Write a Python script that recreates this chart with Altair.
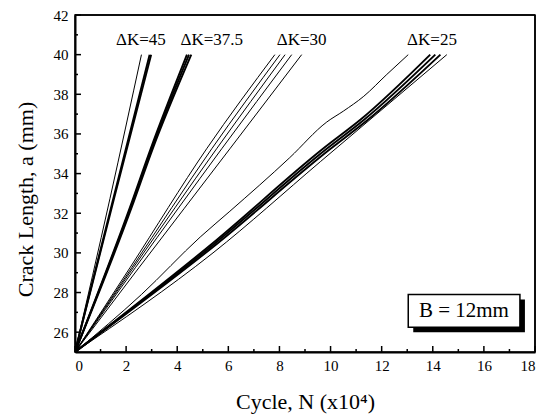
import altair as alt
import pandas as pd

# Crack length a (mm) against number of cycles N (x10^4), constant-ΔK tests, B = 12 mm

# ΔK = 45
N_45_a = [0, 1.37, 2.60]
A_45_a = [25, 32.75, 40]
N_45_b = [0, 1.50, 2.92]
A_45_b = [25, 32.75, 40]
N_45_c = [0, 1.53, 2.98]
A_45_c = [25, 32.75, 40]

# ΔK = 37.5
N_375_a = [0, 2.15, 2.96, 4.38]
A_375_a = [25, 32.3, 35.25, 40]
N_375_b = [0, 2.18, 3.00, 4.46]
A_375_b = [25, 32.3, 35.25, 40]
N_375_c = [0, 2.22, 3.04, 4.55]
A_375_c = [25, 32.3, 35.25, 40]

# ΔK = 30
N_30_a = [0, 2.15, 5.15, 7.82]
A_30_a = [25, 29.25, 35.25, 40]
N_30_b = [0, 2.22, 5.35, 8.02]
A_30_b = [25, 29.25, 35.25, 40]
N_30_c = [0, 2.28, 5.54, 8.22]
A_30_c = [25, 29.25, 35.25, 40]
N_30_d = [0, 2.36, 5.74, 8.48]
A_30_d = [25, 29.25, 35.25, 40]
N_30_e = [0, 2.50, 6.06, 8.87]
A_30_e = [25, 29.25, 35.25, 40]

# ΔK = 25
N_25_a = [0, 2.6, 4.9, 6.06, 8.4, 9.85, 10.5, 11.3, 12.2, 13.04]
A_25_a = [25, 27.9, 30.8, 32.1, 34.8, 36.6, 37.15, 37.9, 39.0, 40]
N_25_b = [0, 5.35, 9.75, 11.2, 13.90]
A_25_b = [25, 30.45, 35.3, 36.75, 40]
N_25_c = [0, 5.40, 9.85, 11.3, 14.10]
A_25_c = [25, 30.4, 35.25, 36.7, 40]
N_25_d = [0, 5.45, 9.95, 11.4, 14.30]
A_25_d = [25, 30.35, 35.2, 36.65, 40]
N_25_e = [0, 5.40, 9.60, 14.55]
A_25_e = [25, 30.0, 34.6, 40]

runs = {
    "45a": (N_45_a, A_45_a), "45b": (N_45_b, A_45_b), "45c": (N_45_c, A_45_c),
    "37.5a": (N_375_a, A_375_a), "37.5b": (N_375_b, A_375_b), "37.5c": (N_375_c, A_375_c),
    "30a": (N_30_a, A_30_a), "30b": (N_30_b, A_30_b), "30c": (N_30_c, A_30_c),
    "30d": (N_30_d, A_30_d), "30e": (N_30_e, A_30_e),
    "25a": (N_25_a, A_25_a), "25b": (N_25_b, A_25_b), "25c": (N_25_c, A_25_c),
    "25d": (N_25_d, A_25_d), "25e": (N_25_e, A_25_e),
}
thick_runs = {"45b", "45c", "37.5a", "37.5b", "37.5c", "25b", "25c", "25d"}

label_text = ["ΔK=45", "ΔK=37.5", "ΔK=30", "ΔK=25"]
label_N = [2.58, 5.35, 8.87, 13.97]
label_A = [40.5, 40.5, 40.5, 40.5]

x_major = list(range(0, 19, 2))
x_minor = list(range(1, 18, 2))
y_major = list(range(26, 43, 2))
y_minor = list(range(25, 42, 2))

rows = []
for name, (ns, as_) in runs.items():
    w = 1.9 if name in thick_runs else 1.0
    for n, a in zip(ns, as_):
        rows.append({"run": name, "N": n, "a": a, "w": w})
df = pd.DataFrame(rows)

W, H = 460, 337
SERIF = "Liberation Serif"
xs = alt.Scale(domain=[0, 18], nice=False, zero=False)
ys = alt.Scale(domain=[25, 42], nice=False, zero=False)

x_axis = alt.Axis(
    values=x_major, ticks=False, grid=False, labelFont=SERIF, labelFontSize=15,
    labelPadding=6, title="Cycle, N (x10⁴)", titleFont=SERIF, titleFontSize=22,
    titleFontWeight="normal", titleBaseline="alphabetic", titleY=56)
y_axis = alt.Axis(
    values=y_major, ticks=False, grid=False, labelFont=SERIF, labelFontSize=15,
    labelPadding=7, title="Crack Length, a (mm)", titleFont=SERIF, titleFontSize=22,
    titleFontWeight="normal", titleAngle=270, titleBaseline="alphabetic",
    titleAlign="center", titleX=-43, titleY=184)


def X(field):
    return alt.X(field, scale=xs, axis=x_axis)


def Y(field):
    return alt.Y(field, scale=ys, axis=y_axis)


lines = alt.Chart(df).mark_line(color="black", clip=True, interpolate="monotone").encode(
    x=X("N:Q"), y=Y("a:Q"),
    detail="run:N",
    strokeWidth=alt.StrokeWidth("w:Q", scale=None),
)


def xticks(vals, length):
    return alt.Chart(pd.DataFrame({"t": vals})).mark_rule(color="black", strokeWidth=1.5).encode(
        x=X("t:Q"), y=alt.value(H), y2=alt.value(H - length))


def yticks(vals, length):
    return alt.Chart(pd.DataFrame({"t": vals})).mark_rule(color="black", strokeWidth=1.5).encode(
        y=Y("t:Q"), x=alt.value(0), x2=alt.value(length))


# top and right frame lines
frame = alt.Chart(pd.DataFrame({"k": [0]})).mark_rule(color="black", strokeWidth=1.5).encode(
    x=alt.value(0), x2=alt.value(W), y=alt.value(0))
frame_r = alt.Chart(pd.DataFrame({"k": [0]})).mark_rule(color="black", strokeWidth=1.5).encode(
    x=alt.value(W), y=alt.value(0), y2=alt.value(H))

labels = alt.Chart(pd.DataFrame({"t": label_text, "N": label_N, "a": label_A})).mark_text(
    font=SERIF, fontSize=17, color="black", align="center", baseline="alphabetic"
).encode(x=X("N:Q"), y=Y("a:Q"), text="t:N")

# annotation box with drop shadow
box_df = pd.DataFrame({"x1": [13.04], "x2": [17.41], "y1": [26.25], "y2": [27.9],
                       "xc": [15.22], "yc": [27.07], "t": ["B = 12mm"]})
shadow = alt.Chart(box_df).mark_rect(color="black", xOffset=5, x2Offset=5, yOffset=5, y2Offset=5).encode(
    x=X("x1:Q"), x2="x2:Q", y=Y("y1:Q"), y2="y2:Q")
box = alt.Chart(box_df).mark_rect(fill="white", stroke="black", strokeWidth=1.5).encode(
    x=X("x1:Q"), x2="x2:Q", y=Y("y1:Q"), y2="y2:Q")
box_text = alt.Chart(box_df).mark_text(font=SERIF, fontSize=21, color="black",
                                       align="center", baseline="middle").encode(
    x=X("xc:Q"), y=Y("yc:Q"), text="t:N")

chart = alt.layer(
    lines, xticks(x_major, 6), xticks(x_minor, 3), yticks(y_major, 6), yticks(y_minor, 3),
    frame, frame_r, labels, shadow, box, box_text,
).properties(
    width=W, height=H,
    autosize=alt.AutoSizeParams(type="none"),
    padding={"left": 75, "top": 15, "right": 9, "bottom": 62},
    background="white",
).configure_view(stroke="black", strokeWidth=1.5).configure_axis(
    domainColor="black", domainWidth=2, labelColor="black", titleColor="black")

chart.save("out.html", embed_options={"renderer": "svg", "actions": False})
